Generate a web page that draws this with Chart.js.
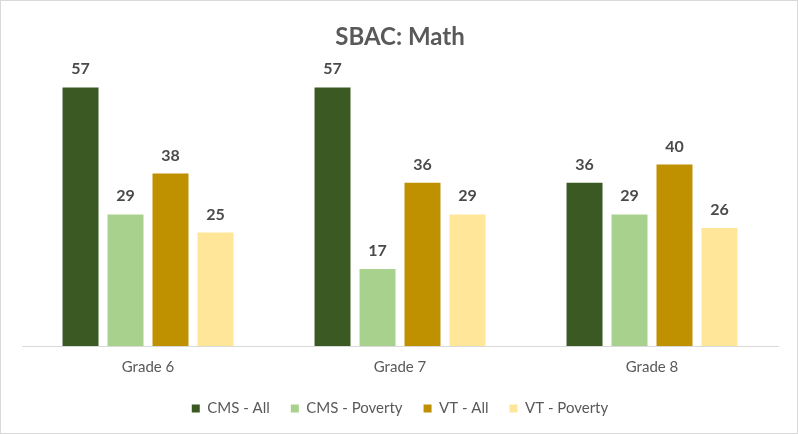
<!DOCTYPE html>
<html>
<head>
<meta charset="utf-8">
<script src="https://cdn.jsdelivr.net/npm/chart.js@4"></script>
<style>
html,body{margin:0;padding:0;background:#fff;}
#wrap{position:absolute;left:0;top:0;width:798px;height:434px;box-sizing:border-box;border:1px solid #d9d9d9;}
canvas{display:block;}
</style>
</head>
<body>
<div id="wrap"><canvas id="c" width="796" height="432"></canvas></div>
<script>
const categories = ["Grade 6", "Grade 7", "Grade 8"];
const seriesNames = ["CMS - All", "CMS - Poverty", "VT - All", "VT - Poverty"];
const cmsAll = [57, 57, 36];
const cmsPoverty = [29, 17, 29];
const vtAll = [38, 36, 40];
const vtPoverty = [25, 29, 26];
const colors = ["#3b5a23", "#a9d18e", "#bf9000", "#ffe699"];

const FONT = 'Lato, "Liberation Sans", sans-serif';

const labelPlugin = {
  id: 'valueLabels',
  afterDatasetsDraw(chart) {
    const ctx = chart.ctx;
    ctx.save();
    ctx.font = 'bold 16px ' + FONT;
    ctx.fillStyle = '#4a4a4a';
    ctx.textAlign = 'center';
    ctx.textBaseline = 'alphabetic';
    chart.data.datasets.forEach((ds, i) => {
      chart.getDatasetMeta(i).data.forEach((bar, j) => {
        ctx.fillText(String(ds.data[j]), bar.x, bar.y - 13);
      });
    });
    ctx.restore();
  }
};

new Chart(document.getElementById('c'), {
  type: 'bar',
  data: {
    labels: categories,
    datasets: [
      { label: seriesNames[0], data: cmsAll, backgroundColor: colors[0] },
      { label: seriesNames[1], data: cmsPoverty, backgroundColor: colors[1] },
      { label: seriesNames[2], data: vtAll, backgroundColor: colors[2] },
      { label: seriesNames[3], data: vtPoverty, backgroundColor: colors[3] }
    ]
  },
  options: {
    responsive: false,
    animation: false,
    layout: { padding: { left: 21, right: 19, top: 0, bottom: 7 } },
    datasets: { bar: { categoryPercentage: 0.714, barPercentage: 0.8 } },
    scales: {
      x: {
        grid: { display: false },
        border: { color: '#d9d9d9', width: 1 },
        ticks: { color: '#595959', font: { family: FONT, size: 15 }, padding: 4 }
      },
      y: {
        display: false,
        min: 0,
        max: 60
      }
    },
    plugins: {
      title: {
        display: true,
        text: 'SBAC: Math',
        color: '#595959',
        font: { family: FONT, size: 24, weight: 'bold' },
        padding: { top: 22, bottom: 22 }
      },
      legend: {
        position: 'bottom',
        labels: {
          color: '#595959',
          font: { family: FONT, size: 15 },
          boxWidth: 8,
          boxHeight: 8,
          padding: 21
        }
      },
      tooltip: { enabled: false }
    }
  },
  plugins: [labelPlugin]
});
</script>
</body>
</html>
